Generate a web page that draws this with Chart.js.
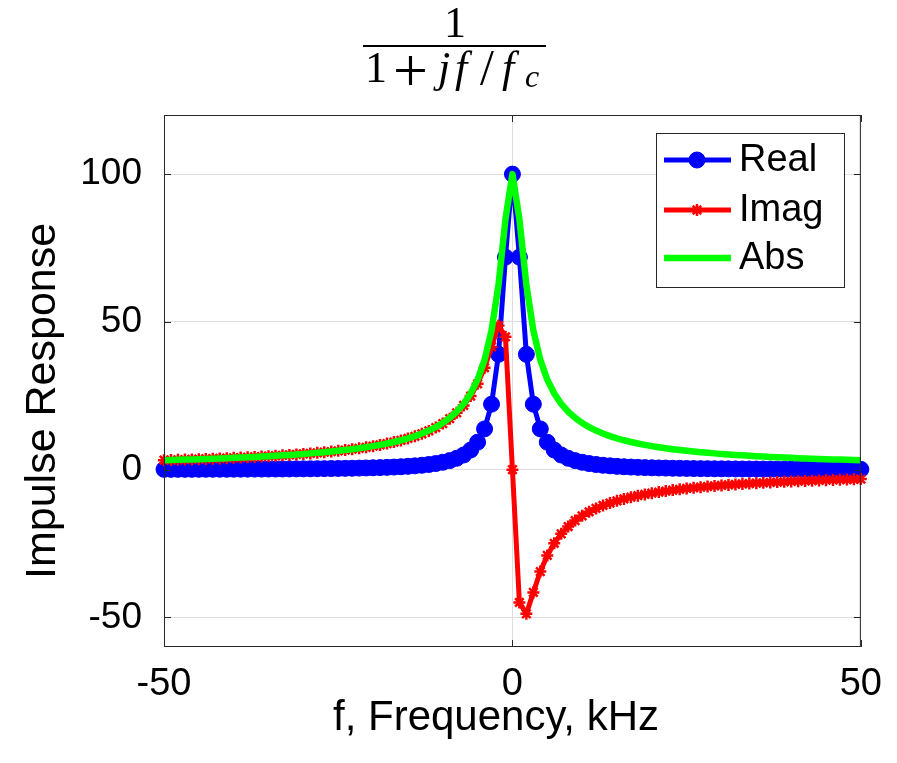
<!DOCTYPE html>
<html>
<head>
<meta charset="utf-8">
<script src="https://cdn.jsdelivr.net/npm/chart.js@4/dist/chart.umd.min.js"></script>
<style>
  html, body { margin: 0; padding: 0; background: #fff; }
  #wrap { width: 897px; height: 763px; position: relative; }
</style>
</head>
<body>
<div id="wrap"><canvas id="grafico" width="897" height="763"></canvas></div>
<script>
// frequencia em kHz, um ponto por kHz
const freq = [
  -50, -49, -48, -47, -46, -45, -44, -43, -42, -41, -40, -39, -38, -37, -36, -35, -34,
  -33, -32, -31, -30, -29, -28, -27, -26, -25, -24, -23, -22, -21, -20, -19, -18, -17,
  -16, -15, -14, -13, -12, -11, -10, -9, -8, -7, -6, -5, -4, -3, -2, -1,
  0,
  1, 2, 3, 4, 5, 6, 7, 8, 9, 10, 11, 12, 13, 14, 15, 16, 17, 18, 19, 20, 21, 22, 23,
  24, 25, 26, 27, 28, 29, 30, 31, 32, 33, 34, 35, 36, 37, 38, 39, 40, 41, 42, 43, 44,
  45, 46, 47, 48, 49, 50
];

const realPart = [
  0.10, 0.11, 0.11, 0.12, 0.12, 0.13, 0.13, 0.14, 0.15, 0.15, 0.16, 0.17, 0.18, 0.19,
  0.20, 0.21, 0.22, 0.23, 0.25, 0.27, 0.28, 0.30, 0.33, 0.35, 0.38, 0.41, 0.44, 0.48,
  0.53, 0.58, 0.64, 0.70, 0.78, 0.88, 0.99, 1.12, 1.29, 1.49, 1.75, 2.07, 2.50, 3.06,
  3.85, 4.97, 6.64, 9.29, 13.79, 22.15, 39.02, 71.91,
  100,
  71.91, 39.02, 22.15, 13.79, 9.29, 6.64, 4.97, 3.85, 3.06, 2.50, 2.07, 1.75, 1.49,
  1.29, 1.12, 0.99, 0.88, 0.78, 0.70, 0.64, 0.58, 0.53, 0.48, 0.44, 0.41, 0.38, 0.35,
  0.33, 0.30, 0.28, 0.27, 0.25, 0.23, 0.22, 0.21, 0.20, 0.19, 0.18, 0.17, 0.16, 0.15,
  0.15, 0.14, 0.13, 0.13, 0.12, 0.12, 0.11, 0.11, 0.10
];

const imagPart = [
  3.20, 3.26, 3.33, 3.40, 3.48, 3.55, 3.63, 3.72, 3.80, 3.90, 3.99, 4.10, 4.20, 4.32,
  4.44, 4.56, 4.70, 4.84, 4.99, 5.15, 5.32, 5.50, 5.70, 5.91, 6.13, 6.37, 6.64, 6.92,
  7.23, 7.57, 7.95, 8.36, 8.82, 9.33, 9.90, 10.55, 11.28, 12.12, 13.10, 14.24, 15.60,
  17.23, 19.23, 21.72, 24.90, 29.03, 34.48, 41.52, 48.78, 44.94,
  0,
  -44.94, -48.78, -41.52, -34.48, -29.03, -24.90, -21.72, -19.23, -17.23, -15.60,
  -14.24, -13.10, -12.12, -11.28, -10.55, -9.90, -9.33, -8.82, -8.36, -7.95, -7.57,
  -7.23, -6.92, -6.64, -6.37, -6.13, -5.91, -5.70, -5.50, -5.32, -5.15, -4.99, -4.84,
  -4.70, -4.56, -4.44, -4.32, -4.20, -4.10, -3.99, -3.90, -3.80, -3.72, -3.63, -3.55,
  -3.48, -3.40, -3.33, -3.26, -3.20
];

const absVal = [
  3.20, 3.27, 3.33, 3.40, 3.48, 3.55, 3.63, 3.72, 3.81, 3.90, 4.00, 4.10, 4.21, 4.32,
  4.44, 4.57, 4.70, 4.84, 4.99, 5.15, 5.33, 5.51, 5.70, 5.92, 6.14, 6.39, 6.65, 6.94,
  7.25, 7.60, 7.97, 8.39, 8.85, 9.37, 9.95, 10.61, 11.35, 12.22, 13.22, 14.39, 15.80,
  17.50, 19.61, 22.28, 25.77, 30.48, 37.14, 47.06, 62.47, 84.80,
  100,
  84.80, 62.47, 47.06, 37.14, 30.48, 25.77, 22.28, 19.61, 17.50, 15.80, 14.39, 13.22,
  12.22, 11.35, 10.61, 9.95, 9.37, 8.85, 8.39, 7.97, 7.60, 7.25, 6.94, 6.65, 6.39,
  6.14, 5.92, 5.70, 5.51, 5.33, 5.15, 4.99, 4.84, 4.70, 4.57, 4.44, 4.32, 4.21, 4.10,
  4.00, 3.90, 3.81, 3.72, 3.63, 3.55, 3.48, 3.40, 3.33, 3.27, 3.20
];

const seriesNames = ['Real', 'Imag', 'Abs'];
const xTicks = [-50, 0, 50];
const yTicks = [-50, 0, 50, 100];
const xLabel = 'f, Frequency, kHz';
const yLabel = 'Impulse Response';

const FONTE = '"Liberation Sans", Arial, Helvetica, sans-serif';
const SERIFA = '"Liberation Serif", "DejaVu Serif", serif';
const COR_EIXO = '#262626';

function pontos(valores) {
    return freq.map((f, i) => ({ x: f, y: valores[i] }));
}

// ============================================
// PLUGIN: caixa, ticks internos, legenda, rotulos e titulo
// ============================================
const pluginEstiloMatlab = {
    id: 'estiloMatlab',
    afterDatasetsDraw(chart) {
        const ctx = chart.ctx;
        const area = chart.chartArea;
        const sx = chart.scales.x;
        const sy = chart.scales.y;

        ctx.save();
        ctx.strokeStyle = COR_EIXO;
        ctx.lineWidth = 1;

        // caixa ao redor da area
        ctx.strokeRect(area.left + 0.5, area.top + 0.5, area.width - 1, area.height - 1);

        // ticks para dentro
        const tam = 7;
        ctx.beginPath();
        yTicks.forEach(v => {
            const y = Math.round(sy.getPixelForValue(v)) + 0.5;
            ctx.moveTo(area.left, y); ctx.lineTo(area.left + tam, y);
            ctx.moveTo(area.right, y); ctx.lineTo(area.right - tam, y);
        });
        xTicks.forEach(v => {
            const x = Math.round(sx.getPixelForValue(v)) + 0.5;
            ctx.moveTo(x, area.bottom); ctx.lineTo(x, area.bottom - tam);
            ctx.moveTo(x, area.top); ctx.lineTo(x, area.top + tam);
        });
        ctx.stroke();

        // legenda
        const lx = 656, ly = 133, lw = 188, lh = 154;
        ctx.fillStyle = '#ffffff';
        ctx.fillRect(lx, ly, lw, lh);
        ctx.strokeStyle = COR_EIXO;
        ctx.lineWidth = 1;
        ctx.strokeRect(lx + 0.5, ly + 0.5, lw, lh);

        const linhas = [160, 210, 258];
        chart.data.datasets.forEach((ds, i) => {
            const y = linhas[i];
            ctx.strokeStyle = ds.borderColor;
            ctx.lineWidth = ds.borderWidth;
            ctx.lineCap = 'butt';
            ctx.beginPath();
            ctx.moveTo(664, y);
            ctx.lineTo(731, y);
            ctx.stroke();
            if (ds.pointRadius > 0) {
                ctx.fillStyle = ds.pointBackgroundColor;
                ctx.strokeStyle = ds.pointBorderColor;
                ctx.lineWidth = ds.pointBorderWidth;
                Chart.helpers.drawPoint(ctx, {
                    pointStyle: ds.pointStyle,
                    radius: ds.pointRadius,
                    borderWidth: ds.pointBorderWidth,
                    rotation: 0
                }, 697, y);
            }
            ctx.fillStyle = '#000000';
            ctx.font = '38px ' + FONTE;
            ctx.textAlign = 'left';
            ctx.textBaseline = 'middle';
            ctx.fillText(ds.label, 739, y + 1);
        });

        // rotulos dos eixos
        ctx.fillStyle = '#000000';
        ctx.font = '42px ' + FONTE;
        ctx.textBaseline = 'alphabetic';
        ctx.textAlign = 'left';
        ctx.fillText(xLabel, 333, 730);

        ctx.save();
        ctx.translate(55, 579);
        ctx.rotate(-Math.PI / 2);
        ctx.font = '43px ' + FONTE;
        ctx.fillText(yLabel, 0, 0);
        ctx.restore();

        // titulo: 1 / (1 + j f / f_c)
        ctx.font = '44px ' + SERIFA;
        ctx.textAlign = 'center';
        ctx.fillText('1', 455, 37);

        ctx.fillRect(363, 45, 183, 2);

        const partes = [
            { t: '1', x: 365, y: 82, tam: 44, it: false },
            { t: '+', x: 393, y: 91, tam: 62, it: false },
            { t: 'j', x: 438, y: 82, tam: 44, it: true },
            { t: 'f', x: 455, y: 82, tam: 44, it: true },
            { t: '/', x: 480, y: 84, tam: 50, it: false },
            { t: 'f', x: 502, y: 82, tam: 44, it: true },
            { t: 'c', x: 525, y: 87, tam: 32, it: true }
        ];
        ctx.textAlign = 'left';
        partes.forEach(p => {
            ctx.font = (p.it ? 'italic ' : '') + p.tam + 'px ' + SERIFA;
            ctx.fillText(p.t, p.x, p.y);
        });
        ctx.restore();
    }
};

// ============================================
// GRAFICO
// ============================================
const ctx = document.getElementById('grafico').getContext('2d');

new Chart(ctx, {
    type: 'line',
    data: {
        datasets: [
            {
                label: seriesNames[0],
                data: pontos(realPart),
                borderColor: '#0000ff',
                backgroundColor: '#0000ff',
                borderWidth: 5,
                borderJoinStyle: 'round',
                pointStyle: 'circle',
                pointRadius: 8,
                pointBorderWidth: 1,
                pointBackgroundColor: '#0000ff',
                pointBorderColor: '#0000ff',
                tension: 0,
                clip: false,
                order: 3
            },
            {
                label: seriesNames[1],
                data: pontos(imagPart),
                borderColor: '#ff0000',
                backgroundColor: '#ff0000',
                borderWidth: 5,
                borderJoinStyle: 'round',
                pointStyle: 'star',
                pointRadius: 6,
                pointBorderWidth: 2.5,
                pointBackgroundColor: '#ff0000',
                pointBorderColor: '#ff0000',
                tension: 0,
                clip: false,
                order: 2
            },
            {
                label: seriesNames[2],
                data: pontos(absVal),
                borderColor: '#00ff00',
                backgroundColor: '#00ff00',
                borderWidth: 6.5,
                borderJoinStyle: 'round',
                pointRadius: 0,
                pointBorderWidth: 0,
                tension: 0,
                clip: false,
                order: 1
            }
        ]
    },
    options: {
        responsive: false,
        animation: false,
        events: [],
        layout: {
            padding: { top: 115, right: 35, left: 0, bottom: 0 }
        },
        plugins: {
            legend: { display: false },
            tooltip: { enabled: false },
            title: { display: false }
        },
        scales: {
            x: {
                type: 'linear',
                min: -50,
                max: 50,
                afterBuildTicks: axis => {
                    axis.ticks = xTicks.map(v => ({ value: v }));
                },
                afterFit: axis => {
                    axis.height = 116;
                },
                ticks: {
                    color: '#000000',
                    font: { family: FONTE, size: 38 },
                    padding: 15,
                    maxRotation: 0
                },
                grid: {
                    color: '#dedede',
                    drawTicks: false
                },
                border: { display: false }
            },
            y: {
                type: 'linear',
                min: -60,
                max: 120,
                afterBuildTicks: axis => {
                    axis.ticks = yTicks.map(v => ({ value: v }));
                },
                afterFit: axis => {
                    axis.width = 164;
                },
                ticks: {
                    color: '#000000',
                    font: { family: FONTE, size: 37 },
                    padding: 22
                },
                grid: {
                    color: '#dedede',
                    drawTicks: false
                },
                border: { display: false }
            }
        }
    },
    plugins: [pluginEstiloMatlab]
});
</script>
</body>
</html>
